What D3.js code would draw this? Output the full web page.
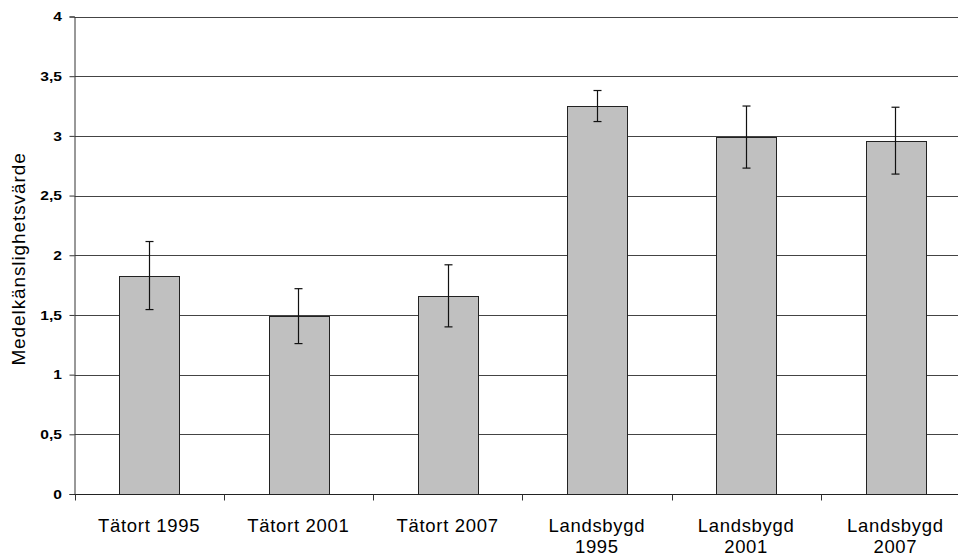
<!DOCTYPE html>
<html>
<head>
<meta charset="utf-8">
<script src="https://cdn.jsdelivr.net/npm/d3@7"></script>
<style>
  html, body { margin: 0; padding: 0; background: #fff; }
  svg { display: block; }
  text { font-family: Arial, "Liberation Sans", sans-serif; fill: #000; }
</style>
</head>
<body>
<svg id="chart" width="958" height="558"></svg>
<script>
// Mean sensitivity value per area type and survey year, with error margins
const categories = ["Tätort 1995", "Tätort 2001", "Tätort 2007", "Landsbygd 1995", "Landsbygd 2001", "Landsbygd 2007"];
const means = [1.83, 1.49, 1.66, 3.25, 2.99, 2.96];
const errors = [0.285, 0.23, 0.26, 0.13, 0.26, 0.28];
const yTicks = [0, 0.5, 1, 1.5, 2, 2.5, 3, 3.5, 4];
const yTitle = "Medelkänslighetsvärde";

const svg = d3.select("#chart");
const margin = { left: 74.5, top: 16.5, right: 970, bottom: 494 };

const x = d3.scaleBand().domain(categories).range([margin.left, margin.right]).padding(0);
const y = d3.scaleLinear().domain([0, 4]).range([margin.bottom, margin.top]);
const fmt = v => String(v).replace(".", ",");

// horizontal gridlines
svg.append("g").selectAll("line").data(yTicks.filter(t => t > 0)).join("line")
  .attr("x1", margin.left).attr("x2", margin.right)
  .attr("y1", d => Math.round(y(d)) + 0.5).attr("y2", d => Math.round(y(d)) + 0.5)
  .attr("stroke", "#444").attr("stroke-width", 1);

// bars
const barW = x.bandwidth() * 0.4;
svg.append("g").selectAll("rect").data(categories).join("rect")
  .attr("x", (d) => Math.round(x(d) + (x.bandwidth() - barW) / 2) + 0.5)
  .attr("y", (d, i) => Math.round(y(means[i])) + 0.5)
  .attr("width", Math.round(barW))
  .attr("height", (d, i) => Math.round(y(0)) - Math.round(y(means[i])))
  .attr("fill", "#c0c0c0").attr("stroke", "#222").attr("stroke-width", 1);

// error bars
const eg = svg.append("g").attr("stroke", "#111").attr("stroke-width", 1.2);
categories.forEach((c, i) => {
  const cx = Math.round(x(c) + x.bandwidth() / 2) + 0.5;
  const hi = y(means[i] + errors[i]), lo = y(means[i] - errors[i]);
  eg.append("line").attr("x1", cx).attr("x2", cx).attr("y1", hi).attr("y2", lo);
  eg.append("line").attr("x1", cx - 4).attr("x2", cx + 4).attr("y1", hi).attr("y2", hi);
  eg.append("line").attr("x1", cx - 4).attr("x2", cx + 4).attr("y1", lo).attr("y2", lo);
});

// y axis
const yAxis = d3.axisLeft(y).tickValues(yTicks).tickFormat(fmt).tickSize(5).tickPadding(8);
const gy = svg.append("g").attr("transform", `translate(${margin.left},0)`).call(yAxis);
gy.select(".domain").attr("stroke", "#333");
gy.selectAll(".tick line").attr("stroke", "#333");
gy.selectAll(".tick text")
  .attr("font-size", 12).attr("font-weight", "bold")
  .attr("font-family", "Arial, 'Liberation Sans', sans-serif").attr("fill", "#111")
  .attr("x", null).attr("dy", null)
  .attr("transform", "translate(-12.5,4.3) scale(1.3,1)");

// x axis with ticks on category boundaries
const gx = svg.append("g").attr("transform", `translate(0,${Math.round(y(0)) + 0.5})`);
gx.append("line").attr("x1", margin.left).attr("x2", margin.right).attr("stroke", "#222");
const bounds = categories.map(c => x(c)).concat([margin.right]);
gx.selectAll("line.tk").data(bounds).join("line").attr("class", "tk")
  .attr("x1", d => Math.round(d) + 0.5).attr("x2", d => Math.round(d) + 0.5)
  .attr("y1", 0).attr("y2", 6).attr("stroke", "#333");

// category labels, wrapped onto two lines when long
categories.forEach(c => {
  const cx = x(c) + x.bandwidth() / 2;
  const words = c.split(" ");
  const lines = c.length > 12 ? [words.slice(0, -1).join(" "), words[words.length - 1]] : [c];
  const t = svg.append("text").attr("text-anchor", "middle").attr("font-size", 18.5)
    .attr("letter-spacing", 0.7);
  lines.forEach((ln, k) => t.append("tspan").attr("x", cx).attr("y", 531.5 + k * 21).text(ln));
});

// y axis title
svg.append("text").attr("transform", "translate(25,259) rotate(-90)")
  .attr("text-anchor", "middle").attr("font-size", 19).attr("letter-spacing", 0.9)
  .text(yTitle);
</script>
</body>
</html>
